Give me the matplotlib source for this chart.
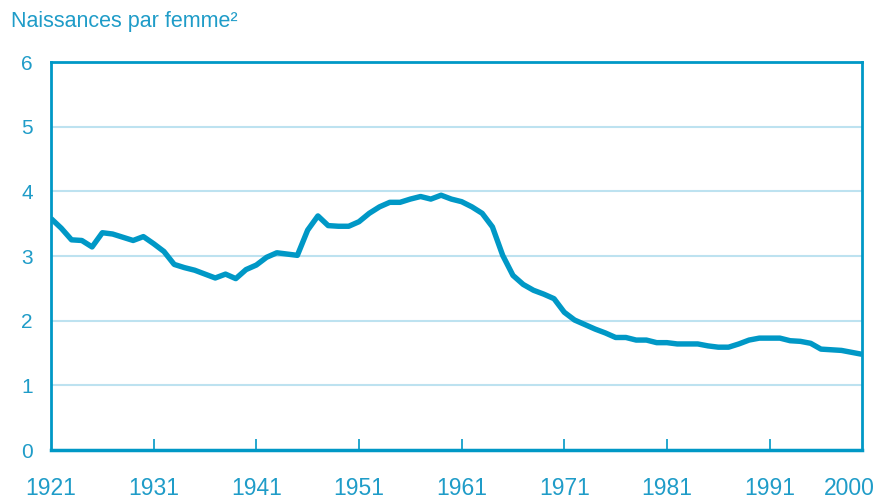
import numpy as np
import matplotlib.pyplot as plt
import matplotlib.transforms as mtransforms

# Indicateur conjoncturel de fécondité
annees = list(range(1921, 2001))
naissances = [
    3.58, 3.43, 3.25, 3.24, 3.14, 3.36, 3.34, 3.29, 3.24, 3.30,   # 1921-1930
    3.19, 3.07, 2.87, 2.82, 2.78, 2.72, 2.66, 2.72, 2.65, 2.79,   # 1931-1940
    2.86, 2.98, 3.05, 3.03, 3.01, 3.40, 3.62, 3.47, 3.46, 3.46,   # 1941-1950
    3.53, 3.66, 3.76, 3.83, 3.83, 3.88, 3.92, 3.88, 3.94, 3.88,   # 1951-1960
    3.84, 3.76, 3.66, 3.45, 3.01, 2.70, 2.56, 2.47, 2.41, 2.34,   # 1961-1970
    2.13, 2.01, 1.94, 1.87, 1.81, 1.74, 1.74, 1.70, 1.70, 1.66,   # 1971-1980
    1.66, 1.64, 1.64, 1.64, 1.61, 1.59, 1.59, 1.64, 1.70, 1.73,   # 1981-1990
    1.73, 1.73, 1.69, 1.68, 1.65, 1.56, 1.55, 1.54, 1.51, 1.48,   # 1991-2000
]
ticks_x = [1931, 1941, 1951, 1961, 1971, 1981, 1991]
ticks_y = [0, 1, 2, 3, 4, 5, 6]

bleu = '#0098c6'
bleu_txt = '#1f9cc8'
grille = '#bde2f0'

plt.rcParams['font.family'] = ['Liberation Sans', 'DejaVu Sans']

fig = plt.figure(figsize=(8.8, 4.99), dpi=100)
ax = fig.add_axes([51/880, 49/499, 811/880, 388/499])

ax.plot(annees, naissances, color=bleu, lw=3.9, solid_capstyle='butt', solid_joinstyle='round')

ax.set_xlim(1921, 2000)
ax.set_ylim(0, 6)
for v in ticks_y[1:-1]:
    ax.axhline(v, color=grille, lw=1.5, zorder=0)

for s in ax.spines.values():
    s.set_color(bleu)
    s.set_linewidth(2)
ax.spines['bottom'].set_linewidth(2.5)

ax.set_xticks(ticks_x)
ax.set_xticklabels([str(a) for a in ticks_x])
ax.tick_params(axis='x', direction='in', length=8, width=1.2, color=bleu,
               labelcolor=bleu_txt, labelsize=16.5, pad=19.5)
ax.set_yticks(ticks_y)
ax.tick_params(axis='y', length=0, labelcolor=bleu_txt, labelsize=15, pad=13)

# 1921 et 2000 aux extrémités de l'axe
trans = mtransforms.blended_transform_factory(ax.transData, ax.transAxes)
trans = mtransforms.offset_copy(trans, fig=fig, y=-27, units='dots')
ax.text(1921, 0, '1921', transform=trans, ha='center', va='top',
        color=bleu_txt, fontsize=16.5)
ax.text(1998.8, 0, '2000', transform=trans, ha='center', va='top',
        color=bleu_txt, fontsize=16.5)

fig.text(11/880, 1 - 21/499, 'Naissances par femme²', color=bleu_txt,
         fontsize=15.5, va='center', ha='left')

fig.savefig('out.png', dpi=100)
